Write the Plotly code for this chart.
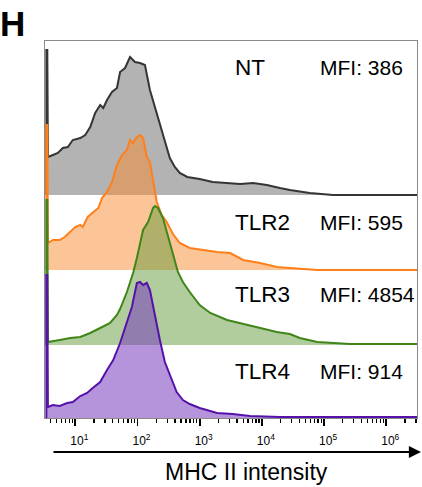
import plotly.graph_objects as go

# ---------------- data ----------------
categories = ["NT", "TLR2", "TLR3", "TLR4"]
mfi_values = [386, 595, 4854, 914]

tick_exponents = [1, 2, 3, 4, 5, 6]
tick_labels = ["10<sup>1</sup>", "10<sup>2</sup>", "10<sup>3</sup>",
               "10<sup>4</sup>", "10<sup>5</sup>", "10<sup>6</sup>"]

# log10(MHC II intensity) of histogram points, and counts (arbitrary units)
nt_log = [0.535, 0.535, 0.55, 0.56, 0.64, 0.72, 0.80, 0.88, 0.96, 1.08, 1.16, 1.24, 1.32, 1.40,
          1.45, 1.51, 1.59, 1.67, 1.72, 1.80, 1.88, 1.96, 2.04, 2.12, 2.20, 2.28, 2.36,
          2.44, 2.52, 2.60, 2.68, 2.80, 3.00, 3.21, 3.44, 3.65, 3.86, 4.08, 4.29, 4.45,
          4.77, 5.14, 6.50]
nt_count = [0, 145, 145, 38, 40, 42, 47, 48, 55, 57, 60, 68, 82, 90,
            87, 95, 103, 107, 123, 127, 138, 133, 132, 130, 105, 88, 72,
            54, 37, 28, 22, 18, 16, 13, 12, 11, 12, 10, 7, 5,
            2, 0, 0]

tlr2_log = [0.535, 0.535, 0.55, 0.56, 0.64, 0.75, 0.83, 0.92, 1.00, 1.08, 1.12, 1.20, 1.28, 1.37,
            1.43, 1.51, 1.59, 1.67, 1.75, 1.83, 1.88, 1.93, 1.99, 2.04, 2.09, 2.15, 2.20,
            2.25, 2.31, 2.39, 2.47, 2.57, 2.68, 2.84, 3.05, 3.28, 3.49, 3.70, 3.97, 4.24,
            4.45, 4.89, 6.50]
tlr2_count = [0, 145, 145, 27, 30, 30, 33, 38, 43, 45, 43, 53, 57, 62,
              72, 78, 88, 105, 115, 120, 130, 127, 133, 135, 132, 113, 108,
              88, 68, 55, 48, 36, 27, 22, 20, 18, 17, 10, 7, 3,
              2, 0, 0]

tlr3_log = [0.535, 0.535, 0.55, 0.56, 0.75, 0.92, 1.08, 1.24, 1.40, 1.56, 1.67, 1.72, 1.83, 1.93,
            1.99, 2.04, 2.09, 2.17, 2.25, 2.28, 2.33, 2.41, 2.47, 2.57, 2.65, 2.73, 2.84,
            3.00, 3.17, 3.44, 3.70, 3.97, 4.24, 4.45, 4.61, 4.89, 5.14, 5.42, 6.50]
tlr3_count = [0, 145, 145, 3, 5, 7, 8, 12, 17, 22, 30, 36, 53, 72,
              87, 100, 115, 123, 137, 139, 137, 127, 114, 93, 73, 63, 53,
              40, 32, 25, 21, 17, 13, 11, 7, 3, 2, 1, 1]

tlr4_log = [0.535, 0.535, 0.55, 0.56, 0.64, 0.75, 0.87, 0.96, 1.08, 1.19, 1.28, 1.40, 1.51, 1.61,
            1.72, 1.83, 1.91, 1.99, 2.04, 2.09, 2.15, 2.20, 2.28, 2.36, 2.44, 2.52, 2.63,
            2.73, 2.84, 3.00, 3.28, 3.53, 3.81, 4.29, 6.50]
tlr4_count = [0, 143, 143, 11, 13, 12, 15, 16, 22, 25, 30, 36, 48, 58,
              75, 95, 111, 135, 136, 133, 135, 128, 101, 78, 56, 43, 26,
              18, 14, 10, 5, 4, 2, 1, 1]

series_logs = [nt_log, tlr2_log, tlr3_log, tlr4_log]
series_counts = [nt_count, tlr2_count, tlr3_count, tlr4_count]

# ---------------- styling / layout ----------------
line_colors = ["#353535", "#ff7f1a", "#3f8518", "#5512ab"]
fill_colors = ["rgba(110,110,110,0.52)", "rgba(250,140,50,0.5)",
               "rgba(100,155,60,0.5)", "rgba(120,60,190,0.55)"]
row_offsets = [223, 148, 73, 0]

W, H = 422, 487
ML, MR, MT, MB = 45, 5, 41, 69
PW = W - ML - MR
PH = H - MT - MB
FONT = "Liberation Sans, Arial, Helvetica, sans-serif"

fig = go.Figure()
for logs, counts, lc, fc, off in zip(series_logs, series_counts, line_colors,
                                     fill_colors, row_offsets):
    xs = [10 ** v for v in logs]
    ys = [off + c for c in counts]
    fig.add_trace(go.Scatter(x=xs + [xs[-1]], y=ys + [off], fill="toself",
                             fillcolor=fc, mode="lines", line=dict(width=0),
                             hoverinfo="skip", showlegend=False))
    fig.add_trace(go.Scatter(x=xs, y=ys, mode="lines",
                             line=dict(color=lc, width=2), showlegend=False))


def px_x(px):
    return (px - ML) / PW


def px_y(py):
    return (H - MB - py) / PH


annotations = []
label_y = [67, 222, 294, 371]
for name, mfi, py in zip(categories, mfi_values, label_y):
    annotations.append(dict(x=px_x(233), y=px_y(py), xref="paper", yref="paper",
                            text=name, showarrow=False, xanchor="left", yanchor="middle",
                            font=dict(family=FONT, size=22.5, color="black")))
    annotations.append(dict(x=px_x(318), y=px_y(py), xref="paper", yref="paper",
                            text=f"MFI: {mfi}", showarrow=False, xanchor="left",
                            yanchor="middle",
                            font=dict(family=FONT, size=21, color="black")))

annotations.append(dict(x=px_x(12.5), y=px_y(23), xref="paper", yref="paper", text="<b>H</b>",
                        showarrow=False, xanchor="center", yanchor="middle",
                        font=dict(family=FONT, size=35, color="black")))
annotations.append(dict(x=px_x(246), y=px_y(472), xref="paper", yref="paper",
                        text="MHC II intensity", showarrow=False, xanchor="center",
                        yanchor="middle", font=dict(family=FONT, size=23, color="black")))
annotations.append(dict(x=px_x(421), y=px_y(452), xref="paper", yref="paper", text="",
                        showarrow=True, ax=-(421 - 52), ay=0, axref="pixel", ayref="pixel",
                        arrowhead=2, arrowsize=1.1, arrowwidth=2.2, arrowcolor="black",
                        standoff=0))

minor_vals = [m * 10 ** e for e in range(0, 7) for m in range(2, 10)]

fig.update_layout(
    width=W, height=H,
    margin=dict(l=ML, r=MR, t=MT, b=MB),
    paper_bgcolor="white", plot_bgcolor="white",
    annotations=annotations,
    xaxis=dict(type="log", range=[0.513, 6.494],
               tickmode="array", tickvals=[10 ** e for e in tick_exponents],
               ticktext=tick_labels,
               ticks="outside", ticklen=7, tickwidth=1.8, tickcolor="black",
               ticklabelshift=4, ticklabelstandoff=5,
               tickfont=dict(family=FONT, size=12, color="black"),
               minor=dict(tickmode="array", tickvals=minor_vals, ticks="outside",
                          ticklen=4, tickwidth=1.3, tickcolor="black", showgrid=False),
               showgrid=False, zeroline=False,
               showline=True, linecolor="#8a8a8a", linewidth=1, mirror=True),
    yaxis=dict(range=[0, PH], showticklabels=False, ticks="", showgrid=False,
               zeroline=False, showline=True, linecolor="#8a8a8a", linewidth=1,
               mirror=True),
)

fig.write_html("out.html",
               config={"displayModeBar": False, "staticPlot": True},
               post_script="document.body.style.margin='0';"
                           "document.body.style.overflow='hidden';")
